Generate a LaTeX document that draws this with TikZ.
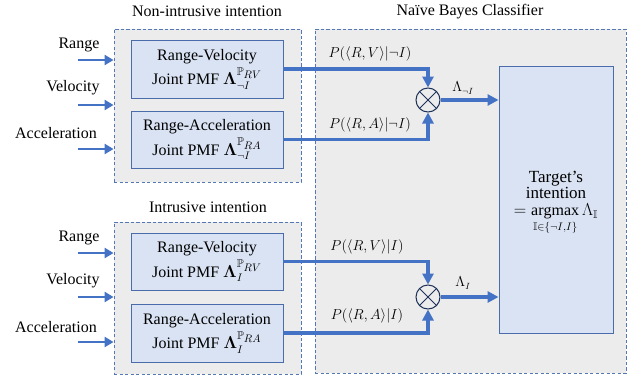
\documentclass[tikz,border=0pt]{standalone}
\usepackage{amsmath,amssymb}
\usepackage{fontspec}
\setmainfont{Liberation Serif}
\usetikzlibrary{arrows.meta}
\definecolor{dashc}{RGB}{84,120,180}
\definecolor{arrc}{RGB}{68,114,196}
\definecolor{pmfc}{RGB}{218,227,243}
\definecolor{pmfd}{RGB}{74,108,170}
\definecolor{grayf}{RGB}{236,236,236}
\definecolor{navy}{RGB}{30,50,90}
\newcommand{\pmfsym}[2]{\boldsymbol{\Lambda}^{\mathbb{P}_{\scriptstyle #1}}_{#2}}
\begin{document}
\begin{tikzpicture}[x=1pt,y=-1pt,
  every node/.style={font=\fontsize{16}{19}\selectfont, inner sep=0pt},
  grp/.style={draw=dashc, fill=grayf, line width=0.9pt, dash pattern=on 3.3pt off 2.2pt, rectangle},
  pmf/.style={draw=pmfd, fill=pmfc, line width=0.9pt, rectangle, align=center, minimum width=152pt},
  inarr/.style={draw=arrc, line width=2.6pt, -{Triangle[length=9pt,width=10pt]}},
  flowarr/.style={draw=arrc, line width=3.6pt, -{Triangle[length=11pt,width=11pt]}},
  mult/.style={circle, draw=navy, line width=1pt, minimum size=24pt},
  mlbl/.style={font=\fontsize{13.5}{16}\selectfont}
]
\useasboundingbox (0,0) rectangle (633,381);
% groups
\node[grp, minimum width=187pt, minimum height=153pt] (ngrp) at (207.5,105.5) {};
\node[grp, minimum width=187pt, minimum height=152pt] (igrp) at (207.5,298) {};
\node[grp, minimum width=311pt, minimum height=344pt] (bgrp) at (470.5,201) {};
% titles
\node (tn) at (207,11) {Non-intrusive intention};
\node (ti) at (208,207) {Intrusive intention};
\node (tb) at (470,12) {Naïve Bayes Classifier};
% PMF boxes
\node[pmf, minimum height=58pt] (rv1) at (207,69) {Range-Velocity\\[3pt]Joint PMF $\pmfsym{RV}{\neg I}$};
\node[pmf, minimum height=57pt] (ra1) at (207,139.5) {Range-Acceleration\\[3pt]Joint PMF $\pmfsym{RA}{\neg I}$};
\node[pmf, minimum height=57pt] (rv2) at (207,261.5) {Range-Velocity\\[3pt]Joint PMF $\pmfsym{RV}{I}$};
\node[pmf, minimum height=58pt] (ra2) at (207,333) {Range-Acceleration\\[3pt]Joint PMF $\pmfsym{RA}{I}$};
% target
\node[pmf, minimum width=114pt, minimum height=267pt] (tgt) at (556,199.5) {};
\node[align=center] (tgttxt) at (556,203) {\fontsize{17}{19}\selectfont Target's\\[-3pt]\fontsize{17}{19}\selectfont intention\\[-2pt]$\displaystyle=\operatorname*{argmax}_{\mathbb{I}\in\{\neg I,I\}}\Lambda_{\mathbb{I}}$};
% multiplication nodes
\node[mult] (m1) at (428,100) {};
\draw[navy, line width=1pt] (m1.north east) -- (m1.south west) (m1.north west) -- (m1.south east);
\node[mult] (m2) at (428,297) {};
\draw[navy, line width=1pt] (m2.north east) -- (m2.south west) (m2.north west) -- (m2.south east);
% inputs top
\node (lr1) at (79,45) {Range};
\node (lv1) at (73,88) {Velocity};
\node (la1) at (56,133) {Acceleration};
\coordinate (ir1) at (78,60);
\coordinate (iv1) at (78,105);
\coordinate (ia1) at (78,149);
\draw[inarr] (ir1) -- (ir1 -| ngrp.west);
\draw[inarr] (iv1) -- (iv1 -| ngrp.west);
\draw[inarr] (ia1) -- (ia1 -| ngrp.west);
% inputs bottom
\node (lr2) at (79,238) {Range};
\node (lv2) at (73,281) {Velocity};
\node (la2) at (56,327) {Acceleration};
\coordinate (ir2) at (78,253);
\coordinate (iv2) at (78,297);
\coordinate (ia2) at (78,342);
\draw[inarr] (ir2) -- (ir2 -| igrp.west);
\draw[inarr] (iv2) -- (iv2 -| igrp.west);
\draw[inarr] (ia2) -- (ia2 -| igrp.west);
% flows
\draw[flowarr] (rv1.east) -| (m1.north);
\draw[flowarr] (ra1.east) -| (m1.south);
\draw[flowarr] (rv2.east) -| (m2.north);
\draw[flowarr] (ra2.east) -| (m2.south);
\draw[flowarr] (m1.east) -- (m1.east -| tgt.west);
\draw[flowarr] (m2.east) -- (m2.east -| tgt.west);
% flow labels
\node[mlbl] (p1) at (370,54) {$P(\langle R,V\rangle|\neg I)$};
\node[mlbl] (p2) at (370,125) {$P(\langle R,A\rangle|\neg I)$};
\node[mlbl] (p3) at (367,247) {$P(\langle R,V\rangle|I)$};
\node[mlbl] (p4) at (367,316) {$P(\langle R,A\rangle|I)$};
\node[mlbl] (l1) at (463,88) {$\Lambda_{\neg I}$};
\node[mlbl] (l2) at (463,283) {$\Lambda_{I}$};
\end{tikzpicture}
\end{document}
